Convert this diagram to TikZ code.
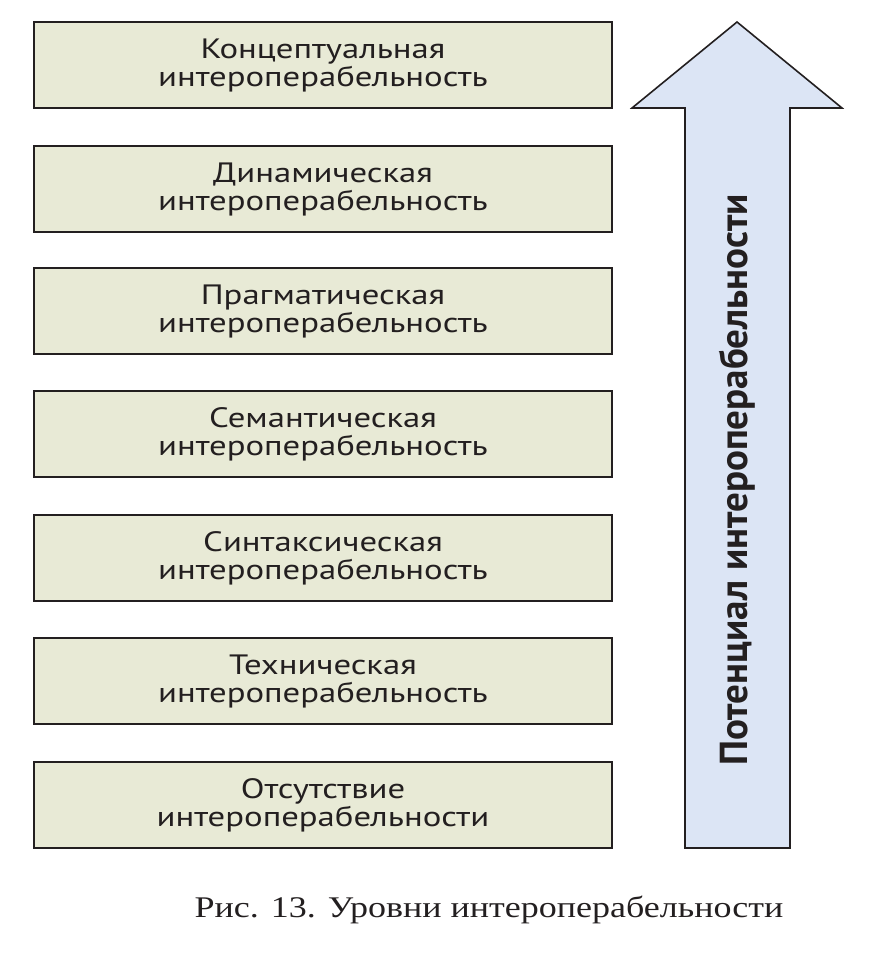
\documentclass[tikz,border=0pt]{standalone}
\usepackage{fontspec}
\newfontfamily\levelfont[FakeStretch=1.24]{PT Sans}
\newfontfamily\potfont{PT Sans}
\newfontfamily\capfont[FakeStretch=1.2]{Liberation Serif}
\definecolor{levelfill}{HTML}{E8EAD6}
\definecolor{arrowfill}{HTML}{DCE5F5}
\definecolor{ink}{HTML}{231F20}
\tikzset{
  level/.style={draw=ink,line width=1.6pt,fill=levelfill,minimum width=578pt,minimum height=86pt,
    inner sep=0pt,align=center,text=ink,font=\levelfont\fontsize{28}{28}\selectfont},
}
\begin{document}
\begin{tikzpicture}[x=1pt,y=-1pt]
\useasboundingbox (0,0) rectangle (891,959);

\node[level] (l7) at (323,65) {Концептуальная\\интероперабельность};
\node[level] (l6) at (323,189) {Динамическая\\интероперабельность};
\node[level] (l5) at (323,311) {Прагматическая\\интероперабельность};
\node[level] (l4) at (323,434) {Семантическая\\интероперабельность};
\node[level] (l3) at (323,558) {Синтаксическая\\интероперабельность};
\node[level] (l2) at (323,681) {Техническая\\интероперабельность};
\node[level] (l1) at (323,805) {Отсутствие\\интероперабельности};

% arrow
\draw[ink,line width=1.6pt,fill=arrowfill,line join=miter] (685,848) -- (685,108) -- (632,108) -- (737,22)
  -- (842,108) -- (790,108) -- (790,848) -- cycle;
\node[rotate=90,text=ink,font=\potfont\bfseries\fontsize{39}{40}\selectfont] (potential) at (737,480) {Потенциал интероперабельности};

\node[text=ink,font=\capfont\fontsize{30}{32}\selectfont] (caption) at (489,910) {Рис. 13. Уровни интероперабельности};

\end{tikzpicture}
\end{document}
